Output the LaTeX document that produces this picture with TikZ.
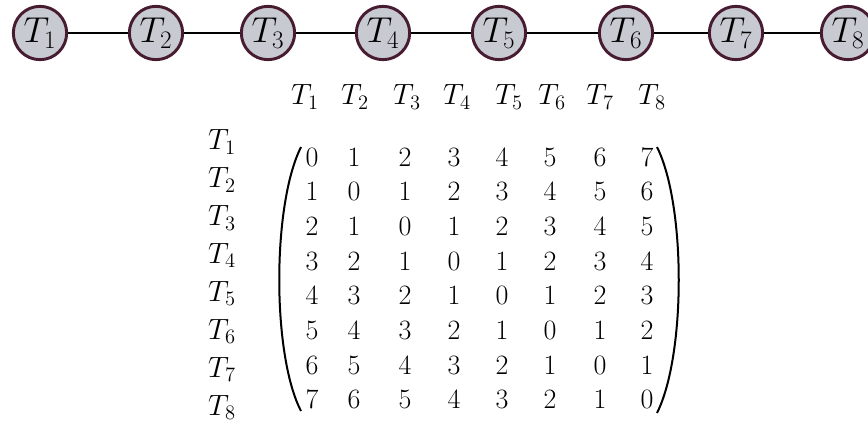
\RequirePackage{fix-cm}
\documentclass[tikz,border=0pt]{standalone}
\usepackage{amsmath}
\usepackage{tikz}
\usetikzlibrary{positioning,calc}
\definecolor{taskFill}{RGB}{200,202,210}
\definecolor{taskRim}{RGB}{72,28,48}
\tikzset{
  task/.style={circle, draw=taskRim, fill=taskFill, line width=2.2pt,
    minimum size=40pt, inner sep=0pt, font=\fontsize{27}{31}\selectfont},
  link/.style={line width=2.2pt, black},
  lbl/.style={inner sep=0pt, font=\fontsize{22}{26}\selectfont},
  entry/.style={inner sep=0pt, font=\fontsize{21}{25}\selectfont},
  paren/.style={line width=1.5pt, black},
}

\begin{document}
\begin{tikzpicture}[x=0.75pt, y=-0.75pt]
  \useasboundingbox (0,0) rectangle (868,426);
  % chain of tasks
  \foreach \i/\x in {1/40,2/156,3/268,4/383,5/499,6/626,7/736,8/848}
    \node[task] (t\i) at (\x,33) {$T_{\i}$};
  \foreach \i in {1,...,7} {
    \pgfmathtruncatemacro{\j}{\i+1}
    \draw[link] (t\i) -- (t\j);
  }
  % column and row labels
  \foreach \i/\x in {1/305,2/355,3/407,4/457,5/509,6/552,7/600,8/652}
    \node[lbl] (h\i) at (\x,97) {$T_{\i}$};
  \foreach \i in {1,...,8} {
    \pgfmathsetmacro{\y}{142+37.9*(\i-1)}
    \node[lbl] (r\i) at (222,\y) {$T_{\i}$};
  }
  % distance matrix
  \foreach \c/\x in {1/312,2/354,3/405,4/454,5/502,6/550,7/600,8/647}
    \foreach \r in {1,...,8} {
      \pgfmathtruncatemacro{\v}{abs(\r-\c)}
      \pgfmathsetmacro{\y}{157+34.7*(\r-1)}
      \node[entry] (m\r\c) at (\x,\y) {$\v$};
    }
  \draw[paren] (301,147) .. controls (272,205) and (272,355) .. (301,411);
  \draw[paren] (657,147) .. controls (686,205) and (686,355) .. (657,413);
\end{tikzpicture}
\end{document}
